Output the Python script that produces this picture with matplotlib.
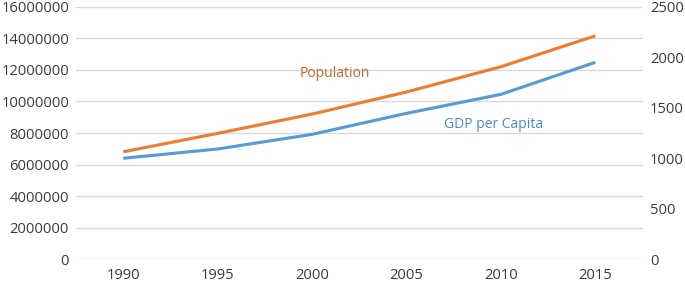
import matplotlib
matplotlib.use("Agg")
import matplotlib.pyplot as plt
import numpy as np

years = ["1990", "1995", "2000", "2005", "2010", "2015"]
population = [6810000, 7980000, 9200000, 10600000, 12200000, 14160000]
gdp_per_capita = [1000, 1092, 1237, 1445, 1633, 1950]
left_ticks = [0, 2000000, 4000000, 6000000, 8000000, 10000000, 12000000, 14000000, 16000000]
right_ticks = [0, 500, 1000, 1500, 2000, 2500]

plt.rcParams['font.family'] = ['Open Sans', 'DejaVu Sans']

fig = plt.figure(figsize=(6.85, 2.82), dpi=100)
ax = fig.add_axes([0.111, 0.0805, 0.827, 0.8955])
ax2 = ax.twinx()

x = np.arange(len(years))
grid_c = '#D9D9D9'
orange = '#ED7D31'
blue = '#5B9BD5'
tick_c = '#3A3A3A'

ax.plot(x, population, color=orange, lw=2.25, solid_capstyle='butt', zorder=3)
ax2.plot(x, gdp_per_capita, color=blue, lw=2.25, solid_capstyle='butt', zorder=3)

ax.set_xlim(-0.5, len(years) - 0.5)
ax.set_ylim(0, 16000000)
ax2.set_ylim(0, 2500)
ax.set_yticks(left_ticks)
ax.set_yticklabels([str(v) for v in left_ticks])
ax2.set_yticks(right_ticks)
ax2.set_yticklabels([str(v) for v in right_ticks])
ax.set_xticks(x)
ax.set_xticklabels(years)

for a in (ax, ax2):
    for s in a.spines.values():
        s.set_visible(False)
    a.tick_params(length=0, labelsize=10.6, labelcolor=tick_c)
ax.tick_params(axis='y', pad=5)
ax2.tick_params(axis='y', pad=5.5)
ax.tick_params(axis='x', pad=6)

ax.yaxis.grid(True, color=grid_c, lw=1.0)
ax.set_axisbelow(True)

ax.text(0.457, 0.7375, "Population", transform=ax.transAxes, ha='center', va='center',
        color='#C8622A', fontsize=10)
ax.text(0.7376, 0.5356, "GDP per Capita", transform=ax.transAxes, ha='center', va='center',
        color='#4A8BC8', fontsize=10)

fig.savefig("out.png", dpi=100)
